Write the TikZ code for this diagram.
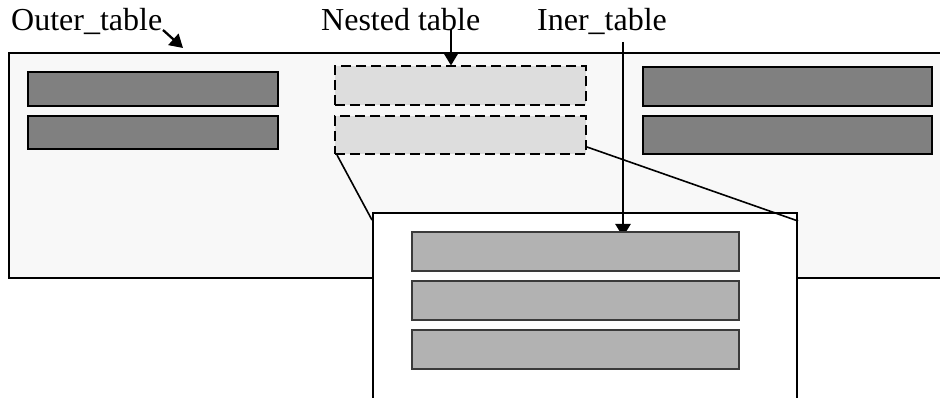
\documentclass[tikz,border=0pt]{standalone}
\usepackage{fontspec}
\setmainfont{Liberation Serif}
\usepackage{tikz}
\usetikzlibrary{arrows.meta}

\definecolor{outerbg}{HTML}{F8F8F8}
\definecolor{darkrow}{HTML}{808080}
\definecolor{nestrow}{HTML}{DDDDDD}
\definecolor{innerrow}{HTML}{B2B2B2}
\definecolor{innerline}{HTML}{3A3A3A}

\tikzset{
  tbl/.style={draw, line width=2pt, rectangle, inner sep=0pt},
  darkbox/.style={tbl, fill=darkrow},
  nestbox/.style={tbl, fill=nestrow, dash pattern=on 10pt off 5pt},
  innerbox/.style={draw=innerline, line width=1.8pt, fill=innerrow, inner sep=0pt},
  lbl/.style={anchor=base west, inner sep=0pt, font=\fontsize{32}{37}\selectfont},
  pointer/.style={line width=2.3pt, -{Triangle[length=13pt,width=15pt]}}
}

\begin{document}
\begin{tikzpicture}[x=1pt, y=-1pt]
    \clip (0,0) rectangle (940,398);
    \fill [white] (0,0) rectangle (940,398);

    %% outer table, runs off the right edge
    \node [tbl, fill=outerbg, minimum width=951pt, minimum height=225pt] (outer) at (484.5,165.5) {};

    %% rows of the outer table
    \node [darkbox, minimum width=250pt, minimum height=34pt] (left1) at (153,89) {};
    \node [darkbox, minimum width=250pt, minimum height=33pt] (left2) at (153,132.5) {};
    \node [nestbox, minimum width=251pt, minimum height=39pt] (nest1) at (460.5,86) {};
    \node [nestbox, minimum width=251pt, minimum height=38pt] (nest2) at (460.5,135) {};
    \node [darkbox, minimum width=289pt, minimum height=39pt] (right1) at (787.5,86.5) {};
    \node [darkbox, minimum width=289pt, minimum height=38pt] (right2) at (787.5,135) {};

    %% inner table, runs off the bottom edge
    \node [tbl, fill=white, minimum width=424pt, minimum height=197pt] (inner) at (585,311.5) {};

    %% zoom lines to the inner table
    \draw [line width=1.6pt] ([xshift=3pt]nest2.south west) -- ([yshift=-8pt]inner.north west);
    \draw [line width=1.6pt] ([yshift=8pt]nest2.south east) -- ([yshift=-9pt]inner.north east);

    %% labels and pointers
    \node [lbl] (louter) at (11,31) {Outer\_table};
    \node [lbl] (lnest) at (321,31) {Nested table};
    \node [lbl] (linner) at (537,31) {Iner\_table};

    \coordinate (pouter) at (163,30);
    \coordinate (pnest) at (451,29);
    \coordinate (pinner) at (623,42);
    \draw [pointer] (pouter) -- (183,48);
    \draw [pointer] (pnest) -- (nest1.north -| pnest);
    \draw [pointer] (pinner) -- ([yshift=-25pt]inner.north -| pinner);

    \node [innerbox, minimum width=327pt, minimum height=39pt] (row1) at (575.5,251.5) {};
    \node [innerbox, minimum width=327pt, minimum height=39pt] (row2) at (575.5,300.5) {};
    \node [innerbox, minimum width=327pt, minimum height=39pt] (row3) at (575.5,349.5) {};
\end{tikzpicture}
\end{document}
